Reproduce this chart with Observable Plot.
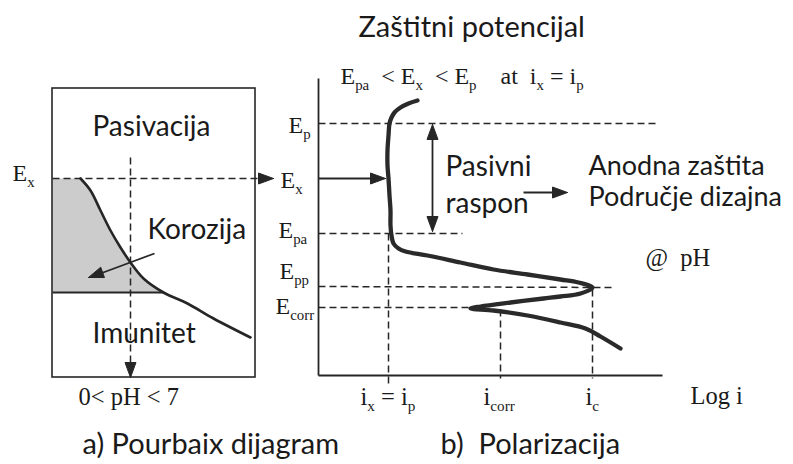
<!DOCTYPE html>
<html><head><meta charset="utf-8">
<script src="https://cdn.jsdelivr.net/npm/d3@7"></script>
<script src="https://cdn.jsdelivr.net/npm/@observablehq/plot@0.6"></script>
<style>
body{margin:0;background:#fff}
#chart svg{display:block}
#chart text{white-space:pre}
</style>
</head><body><div id="chart"></div>
<script>
// ---- data (picture units) ----
const pourbaixBox = [{x1: 52, x2: 255, y1: 88, y2: 377}];
const pourbaixBoundary = [[80,178],[90,190],[100,210],[110,230],[120,247],[130,262],[143,278],[163,292],[187,303],[213,318],[250,337]];
const corrosionRegion = [[52,178],[80,178],[90,190],[100,210],[110,230],[120,247],[130,262],[143,278],[163,292],[52,292]];
const polarizationCurve = [[417,100],[408,103],[400,107],[394,112],[391,117],[389,123],[388,135],[387,150],[387,165],[388,178],[389,195],[390,210],[390,225],[391,235],[393,243],[398,248],[405,251],[427,255],[460,262],[493,269],[527,274],[560,279],[578,282],[592,287],[580,293],[560,296],[543,298],[510,302],[480,306],[470,308],[493,310],[527,315],[560,322],[585,328],[600,336],[620,348]];
const solidSegments = [
  {x1:318,y1:78,x2:318,y2:375},
  {x1:318,y1:375,x2:662,y2:375},
  {x1:318,y1:178,x2:372,y2:178},
  {x1:432,y1:134,x2:432,y2:221},
  {x1:154,y1:253,x2:100,y2:273},
  {x1:523,y1:192,x2:556,y2:192},
  {x1:52,y1:292,x2:163,y2:292}
];
const dashedSegments = [
  {x1:52,y1:178,x2:262,y2:178},
  {x1:130,y1:157,x2:130,y2:366},
  {x1:318,y1:123,x2:658,y2:123},
  {x1:318,y1:233,x2:462,y2:233},
  {x1:318,y1:286,x2:613,y2:287},
  {x1:318,y1:307,x2:470,y2:307},
  {x1:388,y1:233,x2:388,y2:383},
  {x1:500,y1:309,x2:500,y2:378},
  {x1:592,y1:289,x2:592,y2:378}
];
const arrowHeads = [
  {x:273,y:178,angle:0},
  {x:130,y:377,angle:90},
  {x:88,y:277,angle:160},
  {x:385,y:178,angle:0},
  {x:432,y:124,angle:-90},
  {x:432,y:231,angle:90},
  {x:567,y:192,angle:0}
];
const leftSansLabels = [
  {text:"Pasivacija", x:92, y:135},
  {text:"Korozija", x:147, y:238},
  {text:"Imunitet", x:92, y:342},
  {text:"Pasivni", x:445, y:175},
  {text:"raspon", x:445, y:212}
];
const rightSansLabels = [
  {text:"Anodna zaštita", x:588, y:174},
  {text:"Područje dizajna", x:588, y:205}
];
const titleLabels = [{text:"Zaštitni potencijal", x:358, y:36}];
const captionLabels = [
  {text:"a) Pourbaix dijagram", x:82, y:453},
  {text:"b)  Polarizacija", x:440, y:453}
];
const potentialLabels = [
  {text:"E_{x}", x:12, y:180},
  {text:"E_{p}", x:288, y:132},
  {text:"E_{x}", x:280, y:187},
  {text:"E_{pa}", x:278, y:237},
  {text:"E_{pp}", x:279, y:278},
  {text:"E_{corr}", x:275, y:313},
  {text:"E_{pa}  < E_{x}  < E_{p}", x:340, y:83},
  {text:"at  i_{x} = i_{p}", x:500, y:83}
];
const smallSerifLabels = [
  {text:"0< pH < 7", x:78, y:404},
  {text:"@  pH", x:645, y:265},
  {text:"i_{x} = i_{p}", x:360, y:404},
  {text:"i_{corr}", x:483, y:404},
  {text:"i_{c}", x:585, y:404},
  {text:"Log i", x:690, y:403}
];

// ---- derived geometry for filled arrowheads ----
const headLen = 15, headHalf = 5.5;
const headPoints = arrowHeads.flatMap((h, i) => {
  const a = h.angle * Math.PI / 180, ca = Math.cos(a), sa = Math.sin(a);
  const bx = h.x - ca * headLen, by = h.y - sa * headLen;
  return [
    {id:i, x:h.x, y:h.y},
    {id:i, x:bx - sa * headHalf, y:by + ca * headHalf},
    {id:i, x:bx + sa * headHalf, y:by - ca * headHalf},
    {id:i, x:h.x, y:h.y}
  ];
});

const ink = "#262626";
const serif = "Liberation Serif";
const sans = "Lato";
const textOpts = (size, family) => ({x:"x", y:"y", text:"text", textAnchor:"start", lineAnchor:"bottom", fontSize:size, fontFamily:family, fill:"#1a1a1a"});

const chart = Plot.plot({
  width: 793,
  height: 464,
  margin: 0,
  style: {background:"#fff"},
  x: {domain:[0,793], range:[0,793], axis:null},
  y: {domain:[0,464], range:[0,464], axis:null},
  marks: [
    Plot.line(corrosionRegion, {x:d=>d[0], y:d=>d[1], fill:"#cccccc", stroke:"none"}),
    Plot.rect(pourbaixBox, {x1:"x1", x2:"x2", y1:"y1", y2:"y2", fill:"none", stroke:ink, strokeWidth:1.6}),
    Plot.link(dashedSegments, {x1:"x1", y1:"y1", x2:"x2", y2:"y2", stroke:ink, strokeWidth:1.5, strokeDasharray:"7,4"}),
    Plot.link(solidSegments, {x1:"x1", y1:"y1", x2:"x2", y2:"y2", stroke:ink, strokeWidth:1.8}),
    Plot.line(pourbaixBoundary, {x:d=>d[0], y:d=>d[1], stroke:ink, strokeWidth:2.6, curve:"catmull-rom"}),
    Plot.line(polarizationCurve, {x:d=>d[0], y:d=>d[1], stroke:"#2a2a2a", strokeWidth:4.3, curve:"catmull-rom", strokeLinejoin:"round", strokeLinecap:"round"}),
    Plot.line(headPoints, {x:"x", y:"y", z:"id", fill:ink, stroke:ink, strokeWidth:1}),
    Plot.text(titleLabels, textOpts(29, sans)),
    Plot.text(leftSansLabels, textOpts(28, sans)),
    Plot.text(rightSansLabels, textOpts(27, sans)),
    Plot.text(captionLabels, textOpts(29, sans)),
    Plot.text(potentialLabels, textOpts(24, serif)),
    Plot.text(smallSerifLabels, textOpts(24.5, serif))
  ]
});
document.getElementById("chart").appendChild(chart);

// render "_{...}" as real subscripts
chart.querySelectorAll("text").forEach(t => {
  const s = t.textContent;
  if (!s.includes("_{")) return;
  const fs = parseFloat(getComputedStyle(t).fontSize);
  const parts = s.split(/_\{([^}]*)\}/);
  t.textContent = "";
  let shifted = false;
  parts.forEach((p, i) => {
    if (!p) return;
    const ts = document.createElementNS("http://www.w3.org/2000/svg", "tspan");
    ts.textContent = p;
    if (i % 2 === 1) {
      ts.setAttribute("font-size", (fs * 0.62).toFixed(1));
      ts.setAttribute("dy", (fs * 0.28).toFixed(1));
      shifted = true;
    } else if (shifted) {
      ts.setAttribute("dy", (-fs * 0.28).toFixed(1));
      shifted = false;
    }
    t.appendChild(ts);
  });
});
</script>
</body></html>
